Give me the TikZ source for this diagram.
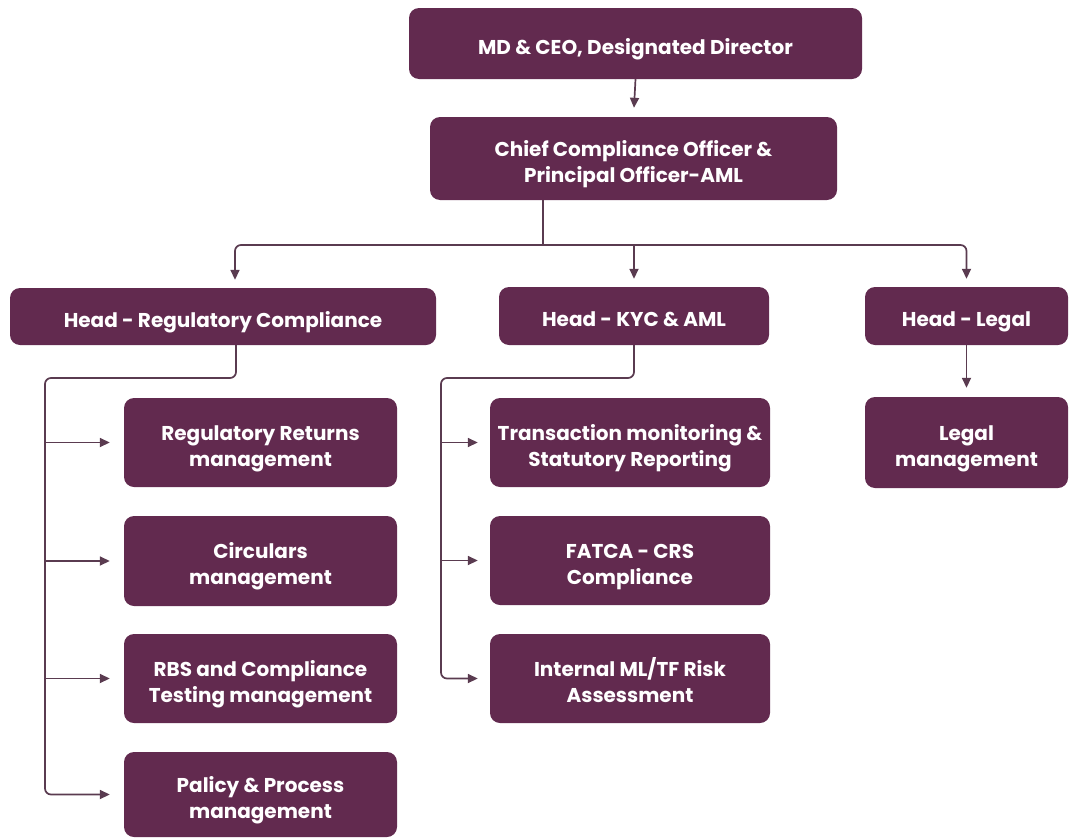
\documentclass[tikz,border=0pt]{standalone}
\usepackage{fontspec}
\setmainfont{Poppins}
\usetikzlibrary{arrows.meta,calc}
\definecolor{plum}{HTML}{622A4F}
\definecolor{lineplum}{HTML}{5A3B50}
\newcommand{\bt}[1]{\raisebox{-5.5pt}[\height][\depth]{\begin{tabular}{@{}c@{}}#1\end{tabular}}}
\tikzset{
  box/.style={fill=plum, rounded corners=10pt, text=white,
    font=\fontsize{20}{26}\selectfont\bfseries, inner sep=0pt},
  conn/.style={draw=lineplum, line width=1.7pt},
  arr/.style={conn, -{Triangle[length=10pt,width=9pt]}},
}
\begin{document}
\begin{tikzpicture}[x=1pt,y=-1pt]
\useasboundingbox (0,0) rectangle (1069,838);
% boxes
\node[box, minimum width=453, minimum height=71] (md) at (635.5,43.5) {\bt{MD \& CEO, Designated Director}};
\node[box, minimum width=407, minimum height=83] (cco) at (633.5,158.5) {\bt{Chief Compliance Officer \&\\Principal Officer-AML}};
\node[box, minimum width=426, minimum height=57] (hreg) at (223,316.5) {\bt{Head - Regulatory Compliance}};
\node[box, minimum width=270, minimum height=58] (hkyc) at (634,316) {\bt{Head - KYC \& AML}};
\node[box, minimum width=203, minimum height=58] (hleg) at (966.5,316) {\bt{Head - Legal}};
\node[box, minimum width=273, minimum height=89] (rr) at (260.5,442.5) {\bt{Regulatory Returns\\management}};
\node[box, minimum width=273, minimum height=90] (circ) at (260.5,561) {\bt{Circulars\\management}};
\node[box, minimum width=273, minimum height=89] (rbs) at (260.5,678.5) {\bt{RBS and Compliance\\Testing management}};
\node[box, minimum width=273, minimum height=85] (pal) at (260.5,794.5) {\bt{Palicy \& Process\\management}};
\node[box, minimum width=280, minimum height=89] (tm) at (630,442.5) {\bt{Transaction monitoring \&\\Statutory Reporting}};
\node[box, minimum width=280, minimum height=89] (fatca) at (630,560.5) {\bt{FATCA - CRS\\Compliance}};
\node[box, minimum width=280, minimum height=89] (iml) at (630,678.5) {\bt{Internal ML/TF Risk\\Assessment}};
\node[box, minimum width=203, minimum height=91] (lm) at (966.5,442.5) {\bt{Legal\\management}};
% coordinates
\coordinate (j) at (543,245);
\coordinate (lx) at (45,378);
\coordinate (mx) at (441,378);
% connectors
\draw[arr, shorten >=9pt] (md.south) -- (cco.north);
\draw[conn] (cco.south -| j) -- (j);
\draw[arr, rounded corners=6pt, shorten >=8pt] (j) -| ([xshift=12]hreg.north);
\draw[arr, rounded corners=6pt, shorten >=8pt] (j) -| (hleg.north);
\draw[arr, shorten >=8pt] (hkyc.north |- j) -- (hkyc.north);
\draw[arr, rounded corners=6pt, shorten >=14pt] ([xshift=13]hreg.south) |- (lx) |- (pal.west);
\draw[arr, shorten >=14pt] (rr.west -| lx) -- (rr.west);
\draw[arr, shorten >=14pt] (circ.west -| lx) -- (circ.west);
\draw[arr, shorten >=14pt] (rbs.west -| lx) -- (rbs.west);
\draw[arr, rounded corners=6pt, shorten >=12pt] (hkyc.south) |- (mx) |- (iml.west);
\draw[arr, shorten >=12pt] (tm.west -| mx) -- (tm.west);
\draw[arr, shorten >=12pt] (fatca.west -| mx) -- (fatca.west);
\draw[arr, shorten >=9pt] (hleg.south) -- (lm.north);
\end{tikzpicture}
\end{document}
